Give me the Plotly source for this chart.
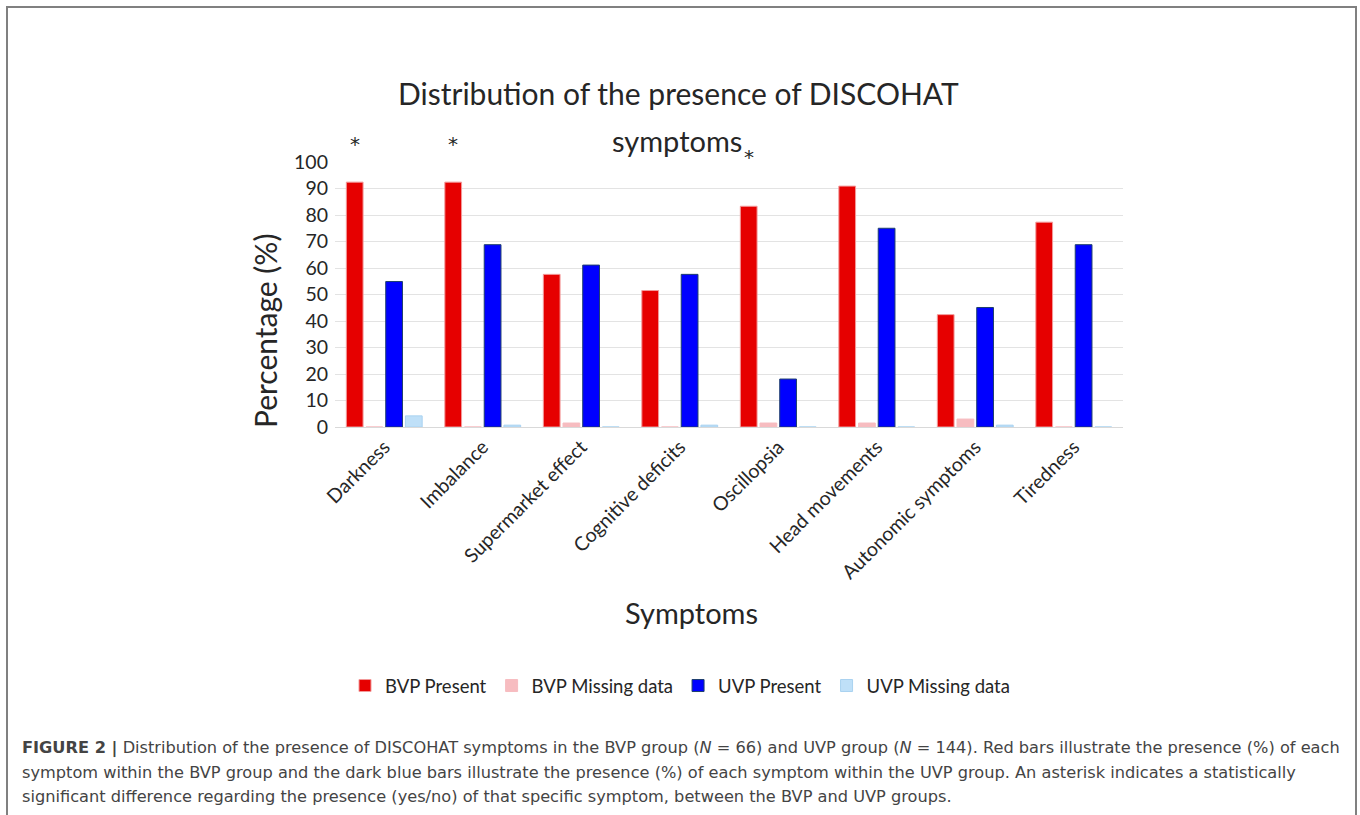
import plotly.graph_objects as go

categories = ["Darkness", "Imbalance", "Supermarket effect", "Cognitive deficits",
              "Oscillopsia", "Head movements", "Autonomic symptoms", "Tiredness"]
bvp_present = [92.4, 92.4, 57.6, 51.5, 83.3, 90.9, 42.4, 77.3]
bvp_missing = [0.0, 0.0, 1.5, 0.0, 1.5, 1.5, 3.0, 0.0]
uvp_present = [54.9, 68.8, 61.1, 57.6, 18.1, 75.0, 45.1, 68.8]
uvp_missing = [4.2, 0.7, 0.0, 0.7, 0.0, 0.0, 0.7, 0.0]
asterisk_cats = ["Darkness", "Imbalance", "Oscillopsia"]
asterisk_y = [106, 106, 101]
series_names = ["BVP Present", "BVP Missing data", "UVP Present", "UVP Missing data"]

W, H = 1360, 815
L, R, T, B = 335, 237, 162, 388
PW = W - L - R
PH = H - T - B


def px(x):
    return (x - L) / PW


def py(y):
    return (H - B - y) / PH


font_main = "Lato, 'Open Sans', sans-serif"
txt = "#262626"

fig = go.Figure()
colors = ["#e60000", "#f7bcc0", "#0000ff", "#bfe0f8"]
lines = ["#f29a9a", "#f7bcc0", "#1f3f6e", "#a9d2f0"]
for name, vals, c, lc in zip(series_names,
                              [bvp_present, bvp_missing, uvp_present, uvp_missing],
                              colors, lines):
    fig.add_trace(go.Bar(x=categories, y=vals, name=name,
                         marker=dict(color=c, line=dict(color=lc, width=1))))

annotations = []
# asterisks above BVP bars
slot = PW / len(categories)
bar_slot = slot * 0.8 / 4
for c, yv in zip(asterisk_cats, asterisk_y):
    annotations.append(dict(x=c, y=yv / 100.0, xref="x", yref="paper", text="*",
                            showarrow=False, xshift=-1.5 * bar_slot, yanchor="middle",
                            yshift=2,
                            font=dict(family="'DejaVu Sans', sans-serif", size=20, color=txt)))

# title
annotations.append(dict(x=px(678), y=py(93), xref="paper", yref="paper",
                        xanchor="center", yanchor="middle",
                        text="Distribution of the presence of DISCOHAT", showarrow=False,
                        font=dict(family=font_main, size=30, color=txt)))
annotations.append(dict(x=px(677), y=py(140), xref="paper", yref="paper",
                        xanchor="center", yanchor="middle",
                        text="symptoms", showarrow=False,
                        font=dict(family=font_main, size=29, color=txt)))
# axis titles
annotations.append(dict(x=px(265), y=py(331), xref="paper", yref="paper",
                        xanchor="center", yanchor="middle",
                        text="Percentage (%)", textangle=-90, showarrow=False,
                        font=dict(family=font_main, size=30, color=txt)))
annotations.append(dict(x=px(691), y=py(612), xref="paper", yref="paper",
                        xanchor="center", yanchor="middle",
                        text="Symptoms", showarrow=False,
                        font=dict(family=font_main, size=29, color=txt)))

# caption
cap_font = dict(family="'DejaVu Sans', sans-serif", size=16.2, color="#444444")
cap_lines = [
    "<b>FIGURE 2 |</b> Distribution of the presence of DISCOHAT symptoms in the BVP group (<i>N</i> = 66) and UVP group (<i>N</i> = 144). Red bars illustrate the presence (%) of each",
    "symptom within the BVP group and the dark blue bars illustrate the presence (%) of each symptom within the UVP group. An asterisk indicates a statistically",
    "significant difference regarding the presence (yes/no) of that specific symptom, between the BVP and UVP groups.",
]
for i, t in enumerate(cap_lines):
    annotations.append(dict(x=px(20), y=py(748 + 24 * i), xref="paper", yref="paper",
                            xanchor="left", yanchor="middle", text=t, showarrow=False,
                            font=cap_font))

shapes = [dict(type="rect", xref="paper", yref="paper",
               x0=px(7), x1=px(1356), y0=py(7), y1=py(830),
               line=dict(color="#808080", width=2))]

fig.update_layout(
    width=W, height=H,
    margin=dict(l=L, r=R, t=T, b=B),
    paper_bgcolor="white", plot_bgcolor="white",
    barmode="group", bargap=0.2, bargroupgap=0.15,
    showlegend=True,
    legend=dict(orientation="h", x=px(680), xanchor="center", y=py(686), yanchor="middle",
                font=dict(family=font_main, size=18.5, color=txt), itemwidth=30,
                bgcolor="rgba(0,0,0,0)"),
    xaxis=dict(tickangle=-45, tickfont=dict(family=font_main, size=19.5, color=txt),
               showline=True, linecolor="#d9d9d9", linewidth=1, ticks="", showgrid=False),
    yaxis=dict(range=[0, 100], dtick=10, tickfont=dict(family=font_main, size=19.5, color=txt),
               showgrid=True, gridcolor="#e3e3e3", gridwidth=1, zeroline=False,
               showline=False, ticks="", ticklabelstandoff=6),
    annotations=annotations,
    shapes=shapes,
)

fig.write_html("out.html", config={"displayModeBar": False},
               post_script="document.body.style.margin='0';document.body.style.overflow='hidden';")
